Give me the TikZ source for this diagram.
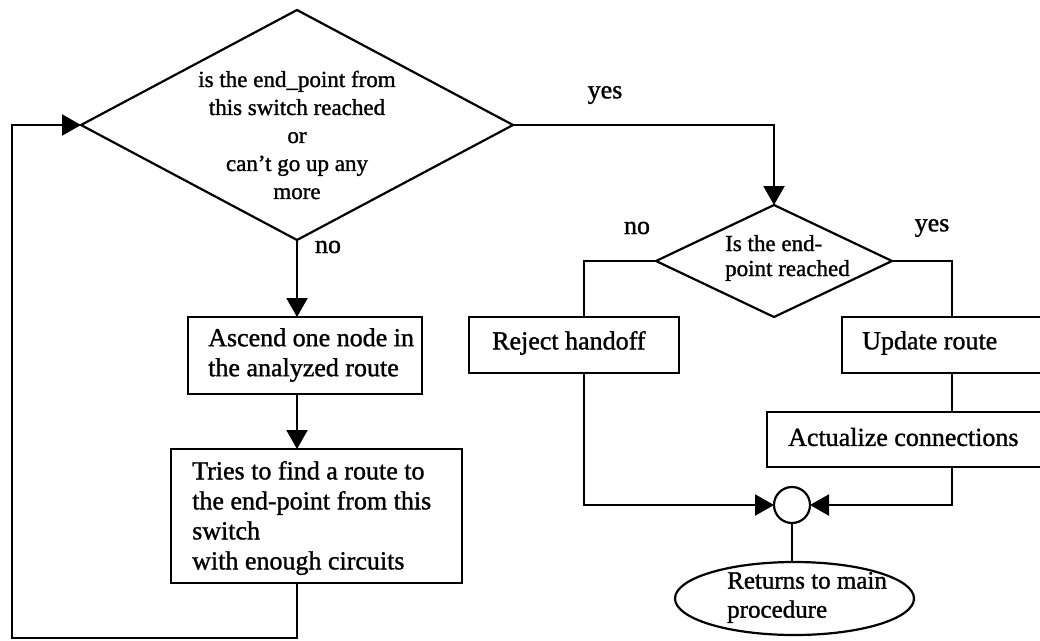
\documentclass[tikz,border=0pt]{standalone}
\usepackage{fontspec}
\setmainfont{Liberation Serif}[FakeBold=1.2]
\usetikzlibrary{shapes.geometric,arrows.meta}

\tikzset{
  flow/.style={draw=black, line width=2.2pt, line join=miter},
  arr/.style={flow, -{Triangle[length=19pt,width=21pt]}},
  decision/.style={draw=black, line width=2.2pt, shape=diamond, inner sep=0pt, outer sep=0pt},
  stepbox/.style={draw=black, line width=2.2pt, rectangle, inner sep=0pt, outer sep=0pt},
  joint/.style={draw=black, line width=2.2pt, circle, inner sep=0pt, outer sep=0pt, minimum size=36pt},
  terminal/.style={draw=black, line width=2.2pt, ellipse, inner sep=0pt, outer sep=0pt},
  qtext/.style={align=center, inner sep=0pt, font=\fontsize{23}{28}\selectfont},
  btext/.style={align=left, inner sep=0pt, anchor=west, font=\fontsize{26}{30}\selectfont},
  lbl/.style={inner sep=0pt, font=\fontsize{26}{30}\selectfont}
}

\begin{document}
\begin{tikzpicture}[x=1pt, y=-1pt]
\useasboundingbox (0,0) rectangle (1040,640);
\clip (0,0) rectangle (1040,640);

% ---- left column: climbing the route ----
\node[decision, minimum width=432pt, minimum height=230pt] (d1) at (297,125) {};
\node[qtext] (d1text) at (297,135)
  {is the end\_point from\\this switch reached\\or\\can't go up any\\more};
\node[lbl] (no1) at (328,247) {no};
\node[lbl] (yes1) at (605,95) {yes};

\node[stepbox, minimum width=234pt, minimum height=77pt] (b1) at (305,355.5) {};
\node[btext] (b1text) at (208,355) {Ascend one node in\\the analyzed route};

\node[stepbox, minimum width=291pt, minimum height=134pt] (b2) at (316.5,516) {};
\node[btext] (b2text) at (192,518)
  {Tries to find a route to\\the end-point from this\\switch\\with enough circuits};

\coordinate (loop) at (12,638);

\draw[arr] (d1.south) -- (d1.south |- b1.north);
\draw[arr] (d1.south |- b1.south) -- (d1.south |- b2.north);
\draw[arr] (d1.south |- b2.south) |- (loop) |- (d1.west);

% ---- right column: end-point test ----
\node[decision, minimum width=236pt, minimum height=112pt] (d2) at (774,261) {};
\node[align=left, inner sep=0pt, anchor=west, font=\fontsize{23}{25}\selectfont]
  (d2text) at (725,258) {Is the end-\\point reached};
\node[lbl] (no2) at (637,228) {no};
\node[lbl] (yes2) at (932,228) {yes};

\node[stepbox, minimum width=210pt, minimum height=56pt] (rej) at (574,345) {};
\node[btext] (rejtext) at (492,343) {Reject handoff};

\node[stepbox, minimum width=220pt, minimum height=56pt] (upd) at (952,345) {};
\node[btext] (updtext) at (862,343) {Update route};

\node[stepbox, minimum width=370pt, minimum height=55pt] (act) at (952,439.5) {};
\node[btext] (acttext) at (788,437) {Actualize connections};

\node[joint] (jn) at (792,505) {};

\node[terminal, minimum width=239pt, minimum height=73pt] (ret) at (794.5,598.5) {};
\node[align=left, inner sep=0pt, anchor=west, font=\fontsize{25}{29}\selectfont]
  (rettext) at (727,597.5) {Returns to main\\procedure};

\draw[arr] (d1.east) -| (d2.north);
\draw[flow] (d2.west) -| ([xshift=10pt]rej.north);
\draw[flow] (d2.east) -| (upd.north);
\draw[flow] (upd.south) -- (upd.south |- act.north);
\draw[arr] ([xshift=10pt]rej.south) |- (jn.west);
\draw[arr] (act.south) |- (jn.east);
\draw[flow] (jn.south) -- (jn.south |- ret.north);
\end{tikzpicture}
\end{document}
